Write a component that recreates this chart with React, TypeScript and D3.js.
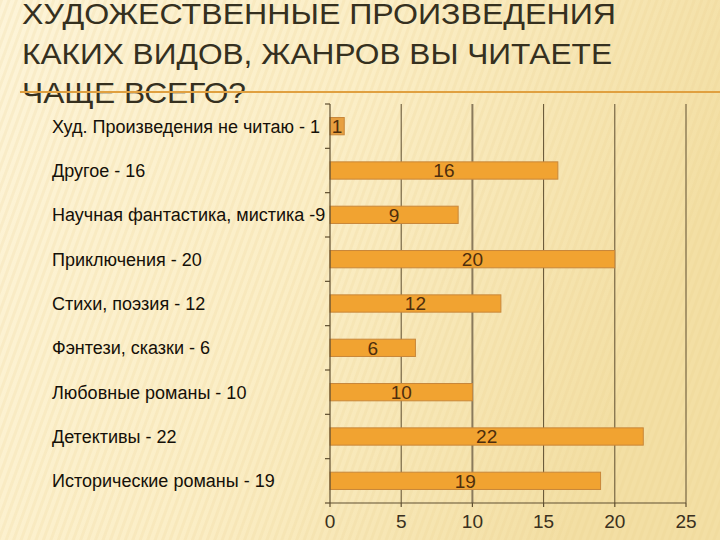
import React from "react";
import * as d3 from "d3";

const titleLines = ["ХУДОЖЕСТВЕННЫЕ ПРОИЗВЕДЕНИЯ", "КАКИХ ВИДОВ, ЖАНРОВ ВЫ ЧИТАЕТЕ", "ЧАЩЕ ВСЕГО?"];
const categories = [
  "Худ. Произведения не читаю - 1",
  "Другое - 16",
  "Научная фантастика, мистика -9",
  "Приключения - 20",
  "Стихи, поэзия - 12",
  "Фэнтези, сказки - 6",
  "Любовные романы - 10",
  "Детективы - 22",
  "Исторические романы - 19",
];
const values = [1, 16, 9, 20, 12, 6, 10, 22, 19];
const xTicks = [0, 5, 10, 15, 20, 25];

const W = 720, H = 540;
const X0 = 330, X1 = 686, Y0 = 104, Y1 = 503;

export default function App() {
  const x = d3.scaleLinear().domain([0, 25]).range([X0, X1]);
  const y = d3.scaleBand<string>().domain(categories).range([Y0, Y1]).paddingInner(0.61).paddingOuter(0.305);
  const step = y.step();
  const boundaries = d3.range(0, categories.length + 1).map((i) => Y0 + i * step);
  const titleWidths = [594, 590, 224];
  return (
    <svg width={W} height={H} style={{ position: "absolute", left: 0, top: 0 }}>
      <defs>
        <linearGradient id="bg" x1="0" y1="0" x2="1" y2="0.3">
          <stop offset="0" stopColor="#fdf4d8" />
          <stop offset="0.5" stopColor="#fbeec6" />
          <stop offset="1" stopColor="#f3dfa4" />
        </linearGradient>
        <pattern id="stripes" width="7" height="7" patternUnits="userSpaceOnUse" patternTransform="rotate(20)">
          <rect width="3" height="7" fill="#e8cf8a" opacity="0.18" />
        </pattern>
      </defs>
      <rect width={W} height={H} fill="url(#bg)" />
      <rect width={W} height={H} fill="url(#stripes)" />
      {/* title */}
      {titleLines.map((t, i) => (
        <text key={i} x={22} y={24 + i * 39.5} fontFamily="'Liberation Sans Narrow', 'Liberation Sans', Arial, sans-serif"
          fontSize={30} fill="#35301f" textLength={titleWidths[i]} lengthAdjust="spacingAndGlyphs">{t}</text>
      ))}
      <line x1={20} x2={W} y1={92} y2={92} stroke="#e0a040" strokeWidth={2} />
      {/* gridlines */}
      {xTicks.slice(1).map((t) => (
        <line key={t} x1={x(t)} x2={x(t)} y1={Y0} y2={Y1} stroke={t === 10 ? "#8a7a5c" : "#5e4e30"} strokeWidth={t === 10 ? 2 : 1} />
      ))}
      {/* bars */}
      {values.map((v, i) => {
        const c = categories[i];
        const by = y(c)!;
        return (
          <g key={c}>
            <rect x={x(0)} y={by} width={x(v) - x(0)} height={y.bandwidth()} fill={i === 0 ? "#e8a040" : "#f1a331"} stroke="#c8873a" strokeWidth={1} />
            <text x={(x(0) + x(v)) / 2} y={by + y.bandwidth() / 2} dy="0.36em" textAnchor="middle"
              fontFamily="'Liberation Sans', Arial, sans-serif" fontSize={19} fill="#4e2e0c">{v}</text>
            <text x={52} y={by + y.bandwidth() / 2} dy="0.36em" fontFamily="'Liberation Sans', Arial, sans-serif" fontSize={18} fill="#151008">{c}</text>
          </g>
        );
      })}
      {/* axes */}
      <line x1={X0} x2={X0} y1={Y0} y2={Y1} stroke="#5e4e30" strokeWidth={1.2} />
      {boundaries.map((b, i) => (
        <line key={i} x1={X0 - 5} x2={X0} y1={b} y2={b} stroke="#5e4e30" strokeWidth={1.2} />
      ))}
      <line x1={X0} x2={X1} y1={Y1} y2={Y1} stroke="#5e4e30" strokeWidth={1.2} />
      {xTicks.map((t) => (
        <g key={t}>
          <line x1={x(t)} x2={x(t)} y1={Y1} y2={Y1 + 4} stroke="#5e4e30" strokeWidth={1.2} />
          <text x={x(t)} y={528} textAnchor="middle" fontFamily="'Liberation Sans', Arial, sans-serif" fontSize={19} fill="#3a3020">{t}</text>
        </g>
      ))}
    </svg>
  );
}
